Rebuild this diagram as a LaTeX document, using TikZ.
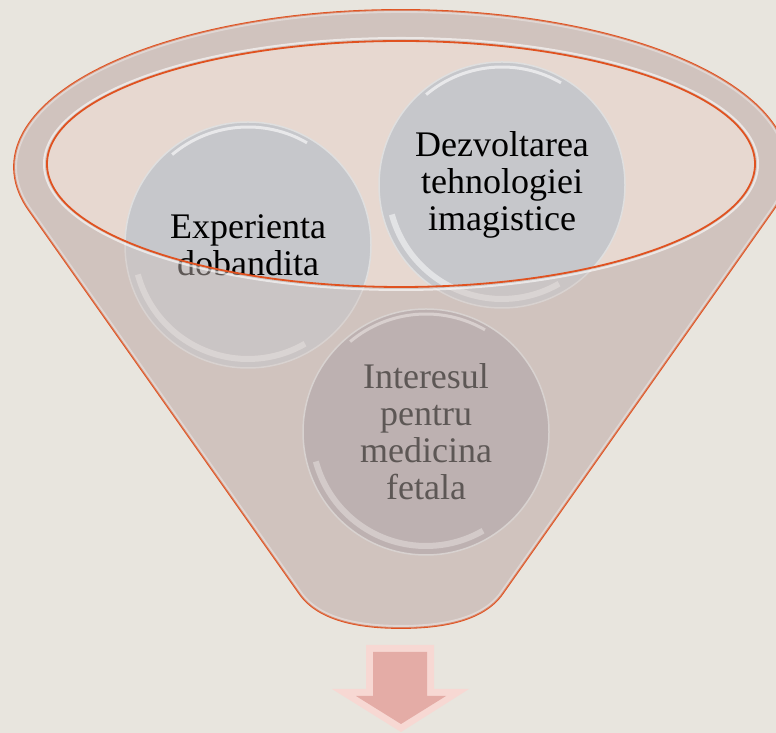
\documentclass[tikz,border=0pt]{standalone}
\usepackage{fontspec}
\setmainfont{Liberation Serif}
\definecolor{paper}{RGB}{232,229,222}
\definecolor{funnelbody}{RGB}{208,195,190}
\definecolor{funneltop}{RGB}{231,216,208}
\definecolor{rimline}{RGB}{224,82,32}
\definecolor{bubble}{RGB}{198,199,203}
\definecolor{bubblelow}{RGB}{175,164,168}
\definecolor{arrowface}{RGB}{228,172,166}
\definecolor{arrowedge}{RGB}{247,216,211}

\begin{document}
\begin{tikzpicture}[x=1pt,y=1pt,
    bubble/.style={circle, minimum size=246pt, inner sep=0pt, align=center,
        font=\fontsize{36}{37}\selectfont, fill=bubble, draw=white!75!gray, line width=1.5pt,
        path picture={
            \draw[white, opacity=.5, line width=6pt] (path picture bounding box.center)
                ++(195:114) arc[start angle=195, end angle=300, radius=114];
            \draw[white, opacity=.6, line width=3pt] (path picture bounding box.center)
                ++(60:118) arc[start angle=60, end angle=130, radius=118];}},
    rim/.style={draw=rimline, line width=1.8pt}]
\fill[paper] (0,0) rectangle (776,733);
\useasboundingbox (0,0) rectangle (776,733);
\coordinate (oc) at (401,566);
\coordinate (ic) at (401,569);
\path[save path=\funnel] (oc) ++(-16:387 and 157)
    arc[start angle=-16, end angle=196, x radius=387, y radius=157]
    -- (299,140) .. controls (318,112) and (360,105) .. (401,105)
    .. controls (442,105) and (484,112) .. (503,140) -- cycle;
\fill[funnelbody, use path=\funnel];
\begin{scope}
    \path[clip, use path=\funnel];
    \draw[white, line width=6pt, opacity=.6, use path=\funnel];
\end{scope}
\draw[rim, use path=\funnel];
\fill[funneltop] (ic) ellipse[x radius=354, y radius=123];

\node[bubble] (exp) at (248,488) {Experienta\\dobandita};
\node[bubble] (tech) at (502,548) {Dezvoltarea\\tehnologiei\\imagistice};
\node[bubble, fill=bubblelow] (int) at (426,301) {Interesul\\pentru\\medicina\\fetala};

\begin{scope}
    \path[clip, use path=\funnel];
    \fill[funnelbody, opacity=.45, even odd rule] (0,0) rectangle (776,733)
        (ic) ellipse[x radius=354, y radius=123];
\end{scope}
\draw[white, opacity=.6, line width=2pt] (ic) ellipse[x radius=357, y radius=126];
\draw[rim] (ic) ellipse[x radius=354, y radius=123];

\fill[arrowedge] (366,88) -- (434,88) -- (434,44) -- (469,44) -- (401,1)
    -- (332,44) -- (366,44) -- cycle;
\fill[arrowface] (373,81) -- (427,81) -- (427,37) -- (446,37) -- (401,9)
    -- (356,37) -- (373,37) -- cycle;
\end{tikzpicture}
\end{document}
